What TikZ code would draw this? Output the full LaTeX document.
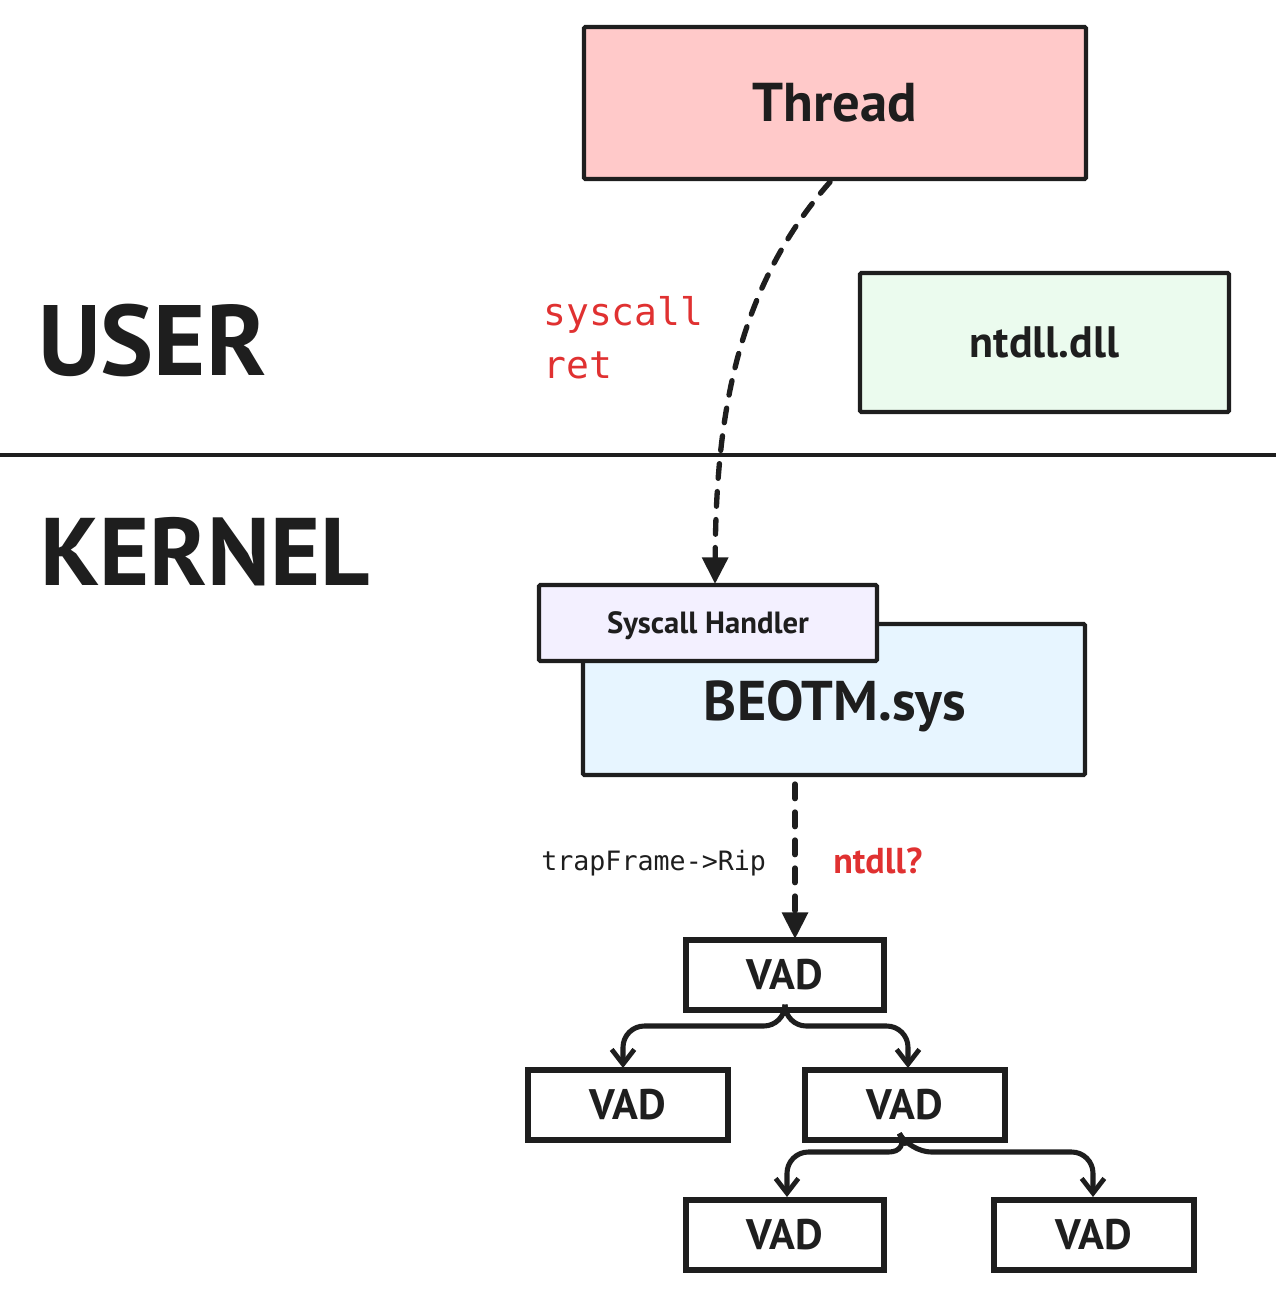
\documentclass[tikz,border=0pt]{standalone}
\usepackage{fontspec}
\setmainfont{PT Sans}
\setmonofont{DejaVu Sans Mono}
\usetikzlibrary{arrows.meta,fit}
\definecolor{ink}{HTML}{1E1E1E}
\definecolor{redtxt}{HTML}{E03131}
\definecolor{pinkfill}{HTML}{FFC9C9}
\definecolor{greenfill}{HTML}{EBFBEE}
\definecolor{violetfill}{HTML}{F3F0FF}
\definecolor{bluefill}{HTML}{E7F5FF}
\begin{document}
\begin{tikzpicture}[x=0.75pt,y=-0.75pt,
  box/.style={draw=ink, line width=3.2pt, inner sep=0pt, rounded corners=1pt},
  vadbox/.style={draw=ink, line width=5pt, fill=white, inner sep=0pt},
  vadtxt/.style={text=ink, inner sep=0pt, font=\bfseries\fontsize{32}{38}\selectfont},
  lbl/.style={text=ink, inner sep=0pt},
  dasharrow/.style={draw=ink, line width=4pt, dash pattern=on 11pt off 10pt, line cap=round,
     -{Triangle[length=20pt,width=19pt]}},
  treearrow/.style={draw=ink, line width=3.8pt, rounded corners=16pt, line cap=round,
     -{Straight Barb[length=11pt,width=17pt,line width=3.6pt]}},
  bigtitle/.style={text=ink, font=\bfseries\fontsize{75}{80}\selectfont, inner sep=0pt, anchor=base west},
  codetxt/.style={font=\ttfamily\fontsize{28.5}{34}\selectfont, text=redtxt, inner sep=0pt, anchor=base west}
]
\useasboundingbox (0,0) rectangle (1276,1314);

% separator
\draw[ink, line width=3pt] (0,455) -- (1276,455);

% titles
\node[bigtitle] (user) at (38,375) {USER};
\node[bigtitle, font=\bfseries\fontsize{72}{80}\selectfont] (kernel) at (40,585) {KERNEL};

% user boxes
\node[box, fill=pinkfill, fit={(584,27) (1086,179)}] (thread) {};
\node[lbl, font=\bfseries\fontsize{41}{48}\selectfont] (threadlbl) at (thread.center) {Thread};
\node[box, fill=greenfill, fit={(860,273) (1229,412)}] (ntdll) {};
\node[lbl, font=\bfseries\fontsize{33}{40}\selectfont] (ntdlllbl) at (ntdll.center) {ntdll.dll};

% labels
\node[codetxt] (sys) at (543,325) {syscall};
\node[codetxt] (ret) at (543,378) {ret};

% kernel boxes
\node[box, fill=bluefill, fit={(583,624) (1085,775)}] (beotm) {};
\node[lbl, font=\bfseries\fontsize{42}{48}\selectfont, anchor=base] (beotmlbl) at (835,720) {BEOTM.sys};
\node[box, fill=violetfill, fit={(539,585) (877,661)}] (handler) {};
\node[lbl, font=\bfseries\fontsize{23}{28}\selectfont, anchor=base] (handlerlbl) at (708,633) {Syscall Handler};

% syscall arrow
\coordinate (tstart) at (830,182);
\coordinate (hend) at (715,584);
\draw[dasharrow] (tstart) .. controls (735,290) and (716,420) .. (hend);

% trap frame arrow
\coordinate (bstart) at (795,784);
\coordinate (vend) at (795,939);
\draw[dasharrow] (bstart) -- (vend);
\node[font=\ttfamily\fontsize{20}{24}\selectfont, text=ink, inner sep=0pt, anchor=base west] (trap) at (541,870) {trapFrame->Rip};
\node[font=\bfseries\fontsize{27}{32}\selectfont, text=redtxt, inner sep=0pt, anchor=base west] (q) at (833,873) {ntdll?};

% VAD tree
\node[vadbox, fit={(686,940) (884,1010)}] (v1) {};
\node[vadbox, fit={(528,1070) (728,1140)}] (v2) {};
\node[vadbox, fit={(805,1070) (1005,1140)}] (v3) {};
\node[vadbox, fit={(686,1200) (884,1270)}] (v4) {};
\node[vadbox, fit={(994,1200) (1194,1270)}] (v5) {};
\foreach \v in {v1,v2,v3,v4,v5} \node[vadtxt] (\v lbl) at (\v.center) {VAD};

\coordinate (v2top) at (623,1068);
\coordinate (v3top) at (908,1068);
\coordinate (v4top) at (787,1197);
\coordinate (v5top) at (1093,1197);

\draw[treearrow] (v1.south) -- (785,1026) -| (v2top);
\draw[treearrow] (v1.south) -- (785,1026) -| (v3top);
\draw[treearrow] (v3.south) -- (910,1152) -| (v4top);
\draw[treearrow] (v3.south) -- (910,1152) -| (v5top);
\end{tikzpicture}
\end{document}
